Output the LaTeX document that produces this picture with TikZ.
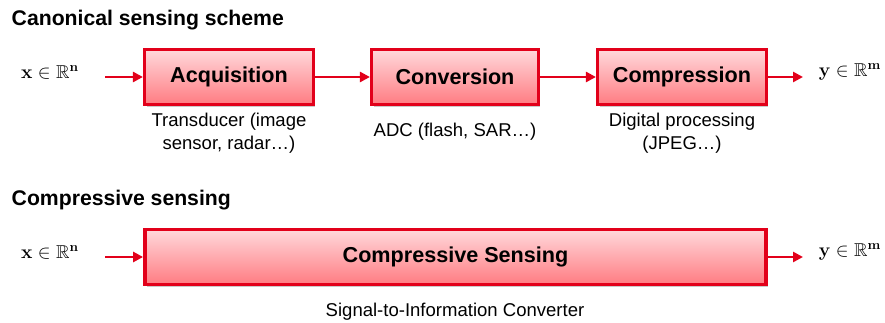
\documentclass[tikz,border=0pt]{standalone}
\usepackage{amsmath,amssymb}
\usepackage[no-math]{fontspec}
\setmainfont{Liberation Sans}
\usetikzlibrary{arrows.meta,shadows}
\definecolor{boxred}{RGB}{226,0,26}
\definecolor{boxtop}{RGB}{255,216,219}
\definecolor{boxbot}{RGB}{255,124,130}
\tikzset{
  stage/.style={draw=boxred, line width=2.6pt, top color=boxtop, bottom color=boxbot,
    minimum height=41pt, inner sep=0pt, font=\fontsize{16.2}{19}\selectfont\bfseries,
    drop shadow={shadow xshift=1.5pt, shadow yshift=-2.25pt, opacity=0.35, fill=black!60}},
  flow/.style={draw=boxred, line width=2.2pt, -{Triangle[length=7.5pt,width=7.5pt]}},
  heading/.style={anchor=west, font=\fontsize{15.9}{18}\selectfont\bfseries},
  note/.style={align=center, font=\fontsize{13.9}{17.2}\selectfont},
  sig/.style={font=\fontsize{14}{16}\selectfont}
}
\begin{document}
\begin{tikzpicture}[x=0.75pt, y=-0.75pt]
\useasboundingbox (0,0) rectangle (885,323);

% canonical chain
\node[heading] (t1) at (7,20) {Canonical sensing scheme};
\node[sig] (xin) at (50,72) {$\mathbf{x}\in\mathbb{R}^{\mathbf{n}}$};
\coordinate (xa) at (105,77);
\node[stage, minimum width=126.5pt] (acq) at (229,77) {Acquisition};
\node[stage, minimum width=125pt] (conv) at (455,77) {Conversion};
\node[stage, minimum width=126.5pt] (comp) at (682,77) {Compression};
\node[sig] (yout) at (850,72) {$\mathbf{y}\in\mathbb{R}^{\mathbf{m}}$};
\coordinate (ya) at (803,77);

\draw[flow] (xa) -- (acq.west);
\draw[flow] (acq.east) -- (conv.west);
\draw[flow] (conv.east) -- (comp.west);
\draw[flow] (comp.east) -- (ya);

\node[note] (n1) at (229,133) {Transducer (image\\sensor, radar…)};
\node[note] (n2) at (455,132) {ADC (flash, SAR…)};
\node[note] (n3) at (682,133) {Digital processing\\(JPEG…)};

% compressive chain
\node[heading] (t2) at (7,200) {Compressive sensing};
\node[sig] (xin2) at (50,252) {$\mathbf{x}\in\mathbb{R}^{\mathbf{n}}$};
\coordinate (xb) at (105,257);
\node[stage, minimum width=466pt] (cs) at (455.5,257) {Compressive Sensing};
\node[sig] (yout2) at (850,252) {$\mathbf{y}\in\mathbb{R}^{\mathbf{m}}$};
\coordinate (yb) at (803,257);

\draw[flow] (xb) -- (cs.west);
\draw[flow] (cs.east) -- (yb);

\node[note] (n4) at (455,312) {Signal-to-Information Converter};
\end{tikzpicture}
\end{document}
